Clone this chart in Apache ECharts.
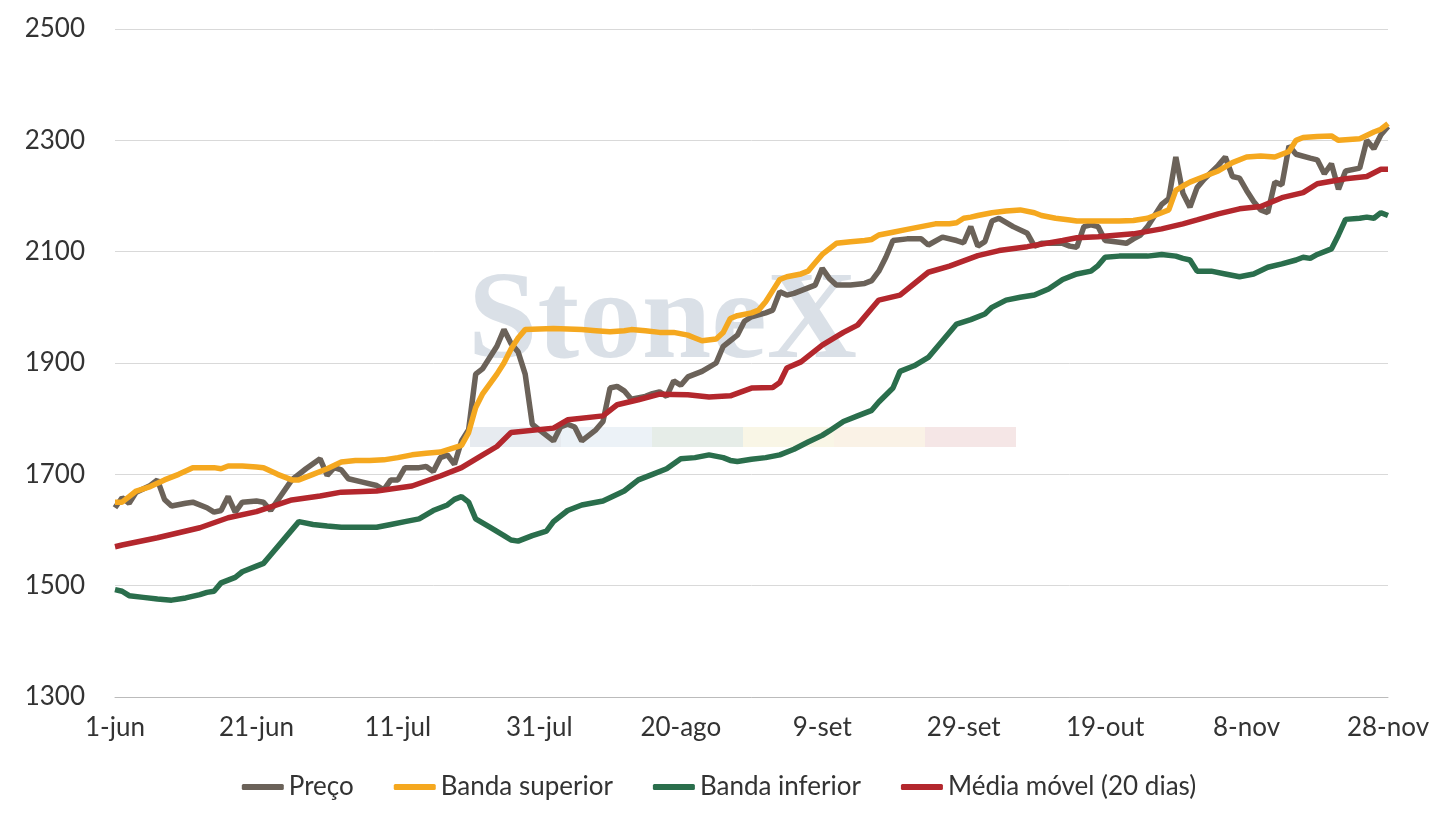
<!DOCTYPE html>
<html><head><meta charset="utf-8">
<script src="https://cdn.jsdelivr.net/npm/echarts@6/dist/echarts.min.js"></script>
<style>html,body{margin:0;padding:0;background:#fff}#c{width:1438px;height:827px}</style>
</head><body><div id="c"></div>
<script>
const tickLabels = ['1-jun','21-jun','11-jul','31-jul','20-ago','9-set','29-set','19-out','8-nov','28-nov'];
const preco = [[0,1640],[1,1658],[2,1648],[3,1668],[5,1680],[6,1690],[7,1655],[8,1643],[10,1648],[11,1650],[13,1640],[14,1632],[15,1635],[16,1660],[17,1632],[18,1650],[20,1652],[21,1650],[22,1635],[25,1690],[27,1710],[29,1728],[30,1698],[31,1712],[32,1708],[33,1692],[35,1686],[37,1680],[38,1672],[39,1690],[40,1690],[41,1712],[43,1712],[44,1714],[45,1705],[46,1730],[47,1735],[48,1718],[49,1760],[50,1780],[51,1880],[52,1890],[54,1930],[55,1960],[56,1935],[57,1920],[58,1880],[59,1790],[60,1780],[61,1770],[62,1760],[63,1785],[64,1790],[65,1785],[66,1760],[68,1780],[69,1795],[70,1855],[71,1858],[72,1850],[73,1835],[75,1840],[76,1845],[77,1848],[78,1840],[79,1868],[80,1860],[81,1875],[83,1885],[85,1900],[86,1930],[87,1940],[88,1950],[89,1975],[90,1983],[92,1990],[93,1995],[94,2028],[95,2022],[96,2025],[98,2035],[99,2040],[100,2070],[101,2052],[102,2040],[104,2040],[106,2043],[107,2048],[108,2065],[109,2090],[110,2120],[112,2123],[114,2123],[115,2112],[117,2126],[119,2120],[120,2116],[121,2145],[122,2110],[123,2118],[124,2155],[125,2160],[127,2145],[129,2133],[130,2110],[131,2115],[132,2115],[134,2115],[135,2110],[136,2108],[137,2145],[138,2148],[139,2145],[140,2120],[142,2117],[143,2115],[144,2123],[145,2130],[146,2145],[147,2165],[148,2185],[149,2195],[150,2270],[151,2205],[152,2180],[153,2215],[154,2230],[156,2255],[157,2270],[158,2235],[159,2232],[160,2210],[161,2190],[162,2175],[163,2170],[164,2225],[165,2220],[166,2290],[167,2275],[169,2268],[170,2265],[171,2240],[172,2258],[173,2212],[174,2245],[176,2250],[177,2300],[178,2285],[179,2310],[180,2325]];
const bandaSup = [[0,1650],[1,1650],[2,1660],[3,1670],[5,1678],[7,1690],[9,1700],[11,1712],[13,1712],[14,1712],[15,1710],[16,1715],[18,1715],[20,1713],[21,1712],[23,1700],[25,1690],[26,1690],[28,1700],[30,1710],[32,1722],[34,1725],[36,1725],[38,1726],[40,1730],[42,1735],[44,1738],[46,1740],[48,1748],[49,1752],[50,1775],[51,1820],[52,1845],[54,1880],[55,1900],[56,1925],[57,1945],[58,1960],[62,1962],[66,1960],[68,1958],[70,1956],[72,1958],[73,1960],[75,1958],[77,1955],[79,1955],[81,1950],[82,1945],[83,1940],[85,1943],[86,1955],[87,1980],[88,1985],[90,1990],[91,1995],[92,2010],[93,2030],[94,2050],[95,2055],[97,2060],[98,2065],[99,2080],[100,2095],[101,2105],[102,2115],[104,2118],[106,2120],[107,2122],[108,2130],[110,2135],[112,2140],[114,2145],[116,2150],[118,2150],[119,2152],[120,2160],[121,2162],[122,2165],[124,2170],[126,2173],[128,2175],[130,2170],[131,2165],[133,2160],[135,2157],[136,2155],[138,2155],[140,2155],[142,2155],[144,2156],[146,2160],[148,2170],[149,2175],[150,2210],[151,2218],[152,2225],[154,2235],[156,2245],[158,2260],[160,2270],[162,2272],[164,2270],[165,2275],[166,2280],[167,2300],[168,2305],[170,2307],[172,2308],[173,2300],[175,2302],[176,2303],[178,2315],[179,2320],[180,2330]];
const bandaInf = [[0,1493],[1,1490],[2,1482],[4,1479],[6,1476],[8,1474],[10,1478],[12,1484],[13,1488],[14,1490],[15,1505],[16,1510],[17,1515],[18,1525],[20,1535],[21,1540],[22,1555],[24,1585],[26,1615],[28,1610],[30,1607],[32,1605],[34,1605],[36,1605],[37,1605],[39,1610],[41,1615],[43,1620],[45,1635],[47,1645],[48,1655],[49,1660],[50,1650],[51,1620],[53,1605],[55,1590],[56,1582],[57,1580],[58,1585],[59,1590],[61,1598],[62,1615],[64,1635],[66,1645],[69,1652],[72,1670],[74,1690],[76,1700],[78,1710],[80,1728],[82,1730],[84,1735],[86,1730],[87,1725],[88,1723],[90,1727],[92,1730],[94,1735],[96,1745],[98,1758],[100,1770],[101,1778],[103,1795],[105,1805],[107,1815],[108,1830],[110,1855],[111,1885],[113,1895],[115,1910],[117,1940],[119,1970],[121,1978],[123,1988],[124,2000],[126,2013],[128,2018],[130,2022],[132,2033],[134,2050],[136,2060],[138,2065],[139,2075],[140,2090],[142,2092],[144,2092],[146,2092],[148,2095],[150,2092],[151,2088],[152,2085],[153,2065],[154,2065],[155,2065],[157,2060],[159,2055],[161,2060],[163,2072],[165,2078],[167,2085],[168,2090],[169,2088],[170,2095],[172,2105],[173,2130],[174,2158],[176,2160],[177,2162],[178,2160],[179,2170],[180,2165]];
const mediaMovel = [[0,1570],[1,1573],[6,1586],[12,1604],[16,1622],[20,1633],[25,1654],[29,1661],[32,1668],[37,1670],[42,1679],[46,1697],[49,1712],[52,1735],[54,1750],[56,1775],[62,1783],[64,1798],[69,1805],[71,1825],[74,1834],[77,1844],[81,1843],[84,1839],[87,1841],[90,1855],[93,1856],[94,1865],[95,1891],[97,1902],[100,1932],[103,1955],[105,1968],[108,2013],[111,2022],[115,2063],[118,2074],[122,2093],[125,2102],[129,2109],[134,2120],[136,2125],[139,2127],[144,2132],[148,2141],[151,2150],[153,2157],[156,2168],[159,2177],[162,2181],[165,2197],[168,2206],[170,2222],[174,2231],[177,2235],[179,2248],[180,2248]];

const chart = echarts.init(document.getElementById('c'));
const font = 'Lato, "Open Sans", sans-serif';
function s(name, data, color){return {name, type:'line', data, showSymbol:false, symbol:'none', lineStyle:{width:5.5, color}, itemStyle:{color}, animation:false};}
const wm = ['#dde3ea','#e4ecf4','#dce6de','#f7f2dc','#f8eddc','#f1dcdc'];
chart.setOption({
  animation:false,
  textStyle:{fontFamily:font},
  grid:{left:115,right:50,top:29,bottom:130},
  graphic:[
    {type:'text',left:468,top:262,z:0,style:{text:'StoneX',font:'bold 125px "Liberation Serif", serif',fill:'rgba(150,165,185,0.35)'}},
    ...wm.map((c,i)=>({type:'rect',z:0,shape:{x:470+i*91,y:427,width:91,height:20},style:{fill:c,opacity:0.7}}))
  ],
  legend:{bottom:22,itemWidth:42,itemHeight:6,itemGap:40,icon:'roundRect',textStyle:{fontSize:26,color:'#333',fontFamily:font},
    data:['Preço','Banda superior','Banda inferior','Média móvel (20 dias)']},
  xAxis:{type:'value',min:0,max:180,interval:20,
    axisLine:{lineStyle:{color:'#bbb'}},axisTick:{show:false},splitLine:{show:false},
    axisLabel:{fontSize:26,color:'#333',margin:18,fontFamily:font,formatter:v=>tickLabels[Math.round(v/20)]||''}},
  yAxis:{type:'value',min:1300,max:2500,interval:200,
    axisLine:{show:false},axisTick:{show:false},
    splitLine:{lineStyle:{color:'#d9d9d9',width:1}},
    axisLabel:{fontSize:26,color:'#333',margin:30,fontFamily:font,formatter:v=>String(v)}},
  series:[s('Preço',preco,'#6b6259'),s('Banda superior',bandaSup,'#f5a81f'),s('Banda inferior',bandaInf,'#2a6e4c'),s('Média móvel (20 dias)',mediaMovel,'#b3272d')]
});
</script></body></html>
